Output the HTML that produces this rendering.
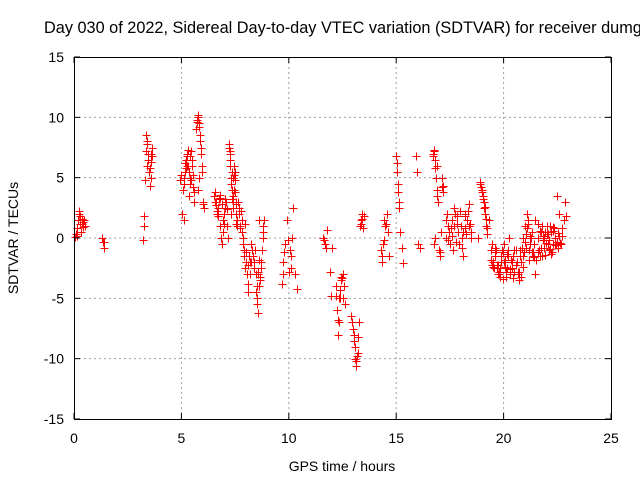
<!DOCTYPE html>
<html><head><meta charset="utf-8"><style>
html,body{margin:0;padding:0;background:#fff;}
svg{display:block;font-family:"Liberation Sans",sans-serif;}
</style></head><body>
<svg id="chart" width="640" height="480">
<text x="44" y="33" font-size="16.3" text-anchor="start">Day 030 of 2022, Sidereal Day-to-day VTEC variation (SDTVAR) for receiver dumg</text>
<text x="342" y="471" font-size="14" text-anchor="middle">GPS time / hours</text>
<text transform="translate(18,238) rotate(-90)" font-size="14" text-anchor="middle">SDTVAR / TECUs</text>
<g id="grid"></g><g id="marks"></g><g id="axes"></g>
</svg>
<script>
const xTicks=[0,5,10,15,20,25];
const yTicks=[-15,-10,-5,0,5,10,15];
const times=[0.05,0.1,0.15,0.2,0.25,0.3,0.35,0.4,0.45,0.5,0.22,0.32,0.12,0.28,0.38,0.42,
1.3,1.35,1.4,1.4,
3.2,3.25,3.3,3.35,3.4,3.45,3.5,3.55,3.6,3.65,3.6,3.38,3.42,3.58,3.36,3.44,3.52,3.62,3.28,
4.95,5.0,5.05,5.1,5.15,5.2,5.25,5.3,5.35,5.4,5.45,5.5,5.55,5.6,5.12,5.22,5.32,5.42,5.52,5.08,5.18,5.28,5.38,5.48,5.58,5.14,5.24,5.34,5.44,
5.7,5.75,5.8,5.85,5.9,5.95,6.0,6.05,5.75,5.8,5.72,5.78,5.88,5.92,5.74,5.82,5.86,5.96,6.02,
6.5,6.6,6.7,6.8,6.85,6.9,7.0,7.1,7.15,6.55,6.65,6.75,6.95,7.05,6.58,6.68,6.78,6.88,6.98,7.08,6.62,6.72,6.82,6.92,7.02,7.12,
7.2,7.25,7.3,7.35,7.4,7.45,7.5,7.55,7.6,7.22,7.28,7.32,7.38,7.42,7.48,7.52,7.58,7.24,7.34,7.44,7.54,7.26,7.36,7.46,7.56,7.3,7.4,7.5,
7.7,7.8,7.85,7.9,8.0,8.05,8.1,8.2,8.3,7.65,7.75,7.95,8.15,8.25,7.68,7.72,7.78,7.82,7.88,7.92,7.98,8.02,8.08,8.12,8.18,8.22,
8.4,8.5,8.55,8.6,8.7,8.75,8.8,8.85,8.6,8.45,8.65,8.5,8.35,8.42,8.48,8.52,8.58,8.62,8.68,8.72,8.78,8.82,8.55,8.4,
9.7,9.75,9.8,9.9,10.0,10.1,10.15,10.2,10.3,10.4,9.72,10.05,9.78,9.95,10.12,
11.6,11.7,11.8,11.9,11.95,12.0,11.65,11.75,
12.2,12.25,12.3,12.35,12.4,12.45,12.5,12.55,12.6,12.28,12.38,12.22,12.32,12.42,12.48,12.52,
12.9,13.0,13.05,13.1,13.15,13.2,13.25,13.12,13.08,12.95,13.02,13.18,13.22,
13.3,13.35,13.4,13.45,13.5,13.38,13.42,
14.3,14.35,14.4,14.5,14.55,14.6,14.65,14.45,14.32,14.42,14.52,
15.0,15.05,15.1,15.15,15.2,15.25,15.3,15.02,15.08,15.12,
15.9,15.95,16.0,16.1,
16.7,16.75,16.8,16.85,16.9,16.95,17.0,17.05,17.1,17.15,17.2,16.8,16.75,16.88,17.02,16.72,16.78,16.82,16.92,17.12,17.18,
17.3,17.4,17.5,17.6,17.7,17.8,17.9,18.0,18.1,18.2,18.3,18.4,18.5,17.35,17.55,17.65,17.85,18.05,18.25,18.45,17.32,17.42,17.48,17.58,17.68,17.72,17.82,17.92,17.98,18.08,18.12,18.18,18.22,18.32,18.38,18.48,
18.8,18.9,19.0,19.05,19.1,19.15,19.2,19.25,19.3,18.95,19.12,18.92,18.98,19.02,19.08,19.18,19.22,
19.4,19.5,19.6,19.7,19.8,19.9,20.0,20.1,20.2,20.3,20.4,20.5,19.45,19.55,19.65,19.75,19.85,19.95,20.05,20.15,20.25,20.35,20.45,19.42,19.52,19.62,19.72,19.82,19.92,20.02,20.12,20.22,20.32,20.42,20.48,19.48,19.58,19.68,19.78,19.88,19.98,20.08,20.18,20.28,20.38,
20.6,20.7,20.8,20.9,21.0,21.1,21.2,21.3,21.4,21.5,20.65,20.75,20.85,20.95,21.05,21.15,21.25,21.35,21.45,20.62,20.72,20.82,20.92,21.02,21.12,21.22,21.32,21.42,20.58,20.68,20.78,20.88,20.98,21.08,21.18,21.28,21.38,21.48,
21.6,21.7,21.8,21.9,22.0,22.1,22.2,22.3,22.4,22.5,22.6,22.7,21.65,21.75,21.85,21.95,22.05,22.15,22.25,22.35,22.45,22.55,22.65,21.62,21.72,21.82,21.92,22.02,22.12,22.22,22.32,22.42,22.52,22.62,22.72,21.58,21.68,21.78,21.88,21.98,22.08,22.18,22.28,22.38,22.48,22.58,
22.8,22.85,22.9,22.82,22.88];
const values=[0.1,0.3,0.8,1.5,2.2,1.8,1.2,0.9,1.5,1.0,2.0,0.5,0.2,1.2,1.6,1.3,
0,-0.3,-0.8,-0.3,
-0.2,1,4.8,8.5,7.8,6.5,5.5,4.3,7,7.5,5,6,8,6.3,7.2,7,5.8,6.8,1.8,
4.8,5.2,2,1.5,5.5,6.5,7,6,3.5,4.5,7.2,6,4.2,3,4.5,5.8,7.3,6.8,5.2,4,6.2,6.8,5,6.5,3.8,5,6,5.5,4.8,
9,10.2,9.5,8.5,7,6,3,2.5,4,5,9.8,10,8,7.5,9.6,9.2,8,5.5,2.8,
3.5,3,2.5,1,0,-0.5,2,1,0,3.8,2,3.2,1.5,2.5,3,2.2,3.3,2.8,1.2,3,2.7,1.8,3.6,0.5,3.2,2.4,
7.8,7,5,4,3,6,5.5,2,1,7.5,6,4.5,3.5,2.5,4.8,3,1.5,7.2,5.5,4,2.8,6.5,3.2,5.2,1.2,2,5,3.8,
2.5,1.5,0,-1,-2,-3,-4.5,-3,-1,3,0.8,1.2,-1.5,-2,2,1,2.2,0.5,-0.5,-1.5,-2.5,-1.2,-3.8,-2.2,-2,-0.5,
-2,-5,-6.2,-4,-2.5,-1,0.5,1.5,1.5,-3,-3.5,-4,-1.5,-1,-4.5,-5.5,-2.8,-1.8,-3.2,-2,0,1,-3,-2.5,
-3.8,-2,-0.5,1.5,-2.8,-1.5,0,2.5,-3,-4.2,-3,-1,-1.2,-0.2,-2.5,
0,-0.5,0.7,-2.8,-4.8,-0.8,-0.2,-0.8,
-4,-6,-8,-7,-5,-3.5,-3,-4,-5.5,-6.8,-4.3,-4.8,-5,-3.2,-3.3,-5,
-6.5,-7.5,-8.5,-10,-10.6,-9.5,-7,-10.2,-9,-7,-8,-9.8,-8.2,
1,1.5,2,0.8,1.8,1.2,1.6,
-1,-2,-0.5,1,2,0.5,-1.5,1.5,-1.5,-0.2,1.2,
6.8,5.5,3.8,2.5,0.5,-0.8,-2.1,6.2,4.5,3,
6.8,5.5,-0.5,-0.8,
7,7.3,6.5,5,4,3,-1,-1.5,0.5,5,4.3,0,-0.5,6,-1.2,6.8,7.2,5.8,3.5,4.2,3.8,
0,1,-0.5,1.5,2.5,-0.3,0.5,1,-1.5,2,1.5,2.8,0.5,2,0.8,-1,1.8,0,0.3,1.2,1.5,-0.2,0.5,0.2,1,2,1.2,-0.5,2.2,-0.8,0.5,1.8,0.8,2.2,1,0,
0,4.5,4,3.5,3,2,1,0.3,1.5,4.2,2.6,4.6,3.8,3.2,2.5,1.6,0.8,
-1,-2,-1.5,-2.5,-3,-2,-0.5,-2.8,-1.5,-3,-2,-1,-0.5,-2.5,-1,-2.2,-3.2,-1.2,-1.8,-2.5,0,-1.8,-3.3,-1.8,-2.4,-0.8,-3,-2.5,-1,-2,-3.2,-1,-2.6,-1.5,-2.8,-2.2,-1.2,-2.2,-2.8,-1.5,-3.4,-2.4,-1.3,-3,
-2.5,-1,-3.5,-2,0,1,2,-1,0.5,-0.5,-1.8,-2.8,-1.5,-0.8,-1.2,0.3,1.5,0.2,-1.5,-3,-2,-2.8,-3.2,-1.5,-0.8,1.2,-0.5,-1.2,-1.6,-2.2,-3,-1,-2.4,-0.3,0.8,-1.8,0,-1.2,
1.5,0,-1.5,1,-0.8,0.3,-1,0.5,-0.5,0,-0.3,0.2,0.8,-1,0.5,-0.2,0.5,-0.5,1,-1.2,0.8,-0.6,-0.8,-0.5,1.2,-0.8,0.2,-1.4,1,-0.2,-1.3,0.6,-0.6,0.4,-0.4,0.2,-1.2,0.6,-1.5,0,-0.4,0.3,-0.9,0.9,-0.6,
3.5,2,1.5,3,1.8];
const NS='http://www.w3.org/2000/svg';
const X0=74,X1=611,Y0=419,Y1=57;
function xs(t){return X0+(t-0)/(25-0)*(X1-X0);}
function ys(v){return Y0-(v+15)/30*(Y0-Y1);}
const grid=document.getElementById('grid'),axes=document.getElementById('axes'),marks=document.getElementById('marks');
function mk(tag,attrs,parent){const e=document.createElementNS(NS,tag);for(const k in attrs)e.setAttribute(k,attrs[k]);parent.appendChild(e);return e;}
xTicks.forEach(t=>{const x=xs(t);
 if(t>0&&t<25){const g=mk('line',{x1:x,x2:x,y1:Y1,y2:Y0,stroke:'#a0a0a0','stroke-dasharray':'2,3'},grid);
 
 }
 mk('line',{x1:x,x2:x,y1:Y0,y2:Y0-6,stroke:'#000'},axes);mk('line',{x1:x,x2:x,y1:Y1,y2:Y1+6,stroke:'#000'},axes);
 const tx=mk('text',{x:x,y:Y0+24,'font-size':14,'text-anchor':'middle'},axes);tx.textContent=t;
 
 });
yTicks.forEach(v=>{const y=ys(v);
 if(v>-15&&v<15){const g=mk('line',{x1:X0,x2:X1,y1:y,y2:y,stroke:'#a0a0a0','stroke-dasharray':'2,3'},grid);
 
 }
 mk('line',{x1:X0,x2:X0+6,y1:y,y2:y,stroke:'#000'},axes);mk('line',{x1:X1,x2:X1-6,y1:y,y2:y,stroke:'#000'},axes);
 const tx=mk('text',{x:X0-10,y:y+5,'font-size':14,'text-anchor':'end'},axes);tx.textContent=v;
 
 });
const box=mk('rect',{x:X0+0.5,y:Y1+0.5,width:X1-X0,height:Y0-Y1,fill:'none',stroke:'#000'},axes);


let d='';
times.forEach((t,i)=>{const x=Math.round(xs(t))+0.5,y=Math.round(ys(values[i]))+0.5;
 d+=`M${x-4},${y}H${x+4}M${x},${y-4}V${y+4}`;});
const p=mk('path',{d:d,stroke:'#ff0000','stroke-width':1,fill:'none'},marks);


</script>
</body></html>
